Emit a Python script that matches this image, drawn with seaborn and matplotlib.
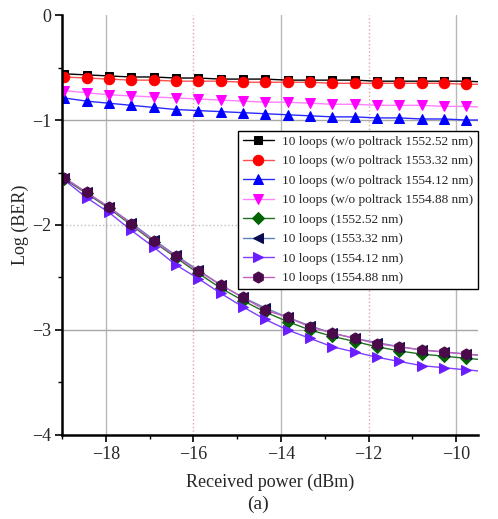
import numpy as np
import pandas as pd
import matplotlib
matplotlib.use("Agg")
import matplotlib.pyplot as plt
import seaborn as sns
from matplotlib.ticker import MultipleLocator

# ---------------------------------------------------------------------------
# data (first/last x are the curve ends, no marker)
# ---------------------------------------------------------------------------
power = [-19.0, -18.95, -18.44, -17.93, -17.42, -16.91, -16.40, -15.89, -15.38,
         -14.87, -14.36, -13.85, -13.34, -12.83, -12.32, -11.81, -11.30,
         -10.79, -10.28, -9.77, -9.5]

labels = [
    "10 loops (w/o poltrack 1552.52 nm)",
    "10 loops (w/o poltrack 1553.32 nm)",
    "10 loops (w/o poltrack 1554.12 nm)",
    "10 loops (w/o poltrack 1554.88 nm)",
    "10 loops (1552.52 nm)",
    "10 loops (1553.32 nm)",
    "10 loops (1554.12 nm)",
    "10 loops (1554.88 nm)",
]

ber_wo_155252 = [-0.555, -0.56, -0.57, -0.58, -0.59, -0.59, -0.60, -0.60, -0.61, -0.61,
                 -0.61, -0.62, -0.62, -0.62, -0.62, -0.63, -0.63, -0.63, -0.63, -0.63, -0.635]
ber_wo_155332 = [-0.585, -0.59, -0.60, -0.61, -0.62, -0.62, -0.63, -0.63, -0.63, -0.64,
                 -0.64, -0.64, -0.64, -0.65, -0.65, -0.65, -0.65, -0.65, -0.65, -0.66, -0.66]
ber_wo_155412 = [-0.785, -0.79, -0.82, -0.84, -0.86, -0.88, -0.90, -0.91, -0.92, -0.93,
                 -0.94, -0.95, -0.96, -0.97, -0.97, -0.98, -0.98, -0.99, -0.99, -1.00, -1.00]
ber_wo_155488 = [-0.715, -0.72, -0.74, -0.76, -0.77, -0.78, -0.79, -0.80, -0.81, -0.82,
                 -0.83, -0.83, -0.84, -0.85, -0.85, -0.86, -0.86, -0.86, -0.87, -0.87, -0.875]
ber_155252 = [-1.55, -1.56, -1.70, -1.84, -2.00, -2.16, -2.31, -2.46, -2.60, -2.72,
              -2.83, -2.92, -3.00, -3.06, -3.11, -3.16, -3.20, -3.23, -3.25, -3.27, -3.28]
ber_155332 = [-1.54, -1.55, -1.69, -1.83, -1.98, -2.14, -2.29, -2.43, -2.57, -2.69,
              -2.79, -2.88, -2.96, -3.03, -3.08, -3.12, -3.16, -3.19, -3.21, -3.23, -3.24]
ber_155412 = [-1.56, -1.57, -1.74, -1.88, -2.05, -2.21, -2.38, -2.51, -2.65, -2.78,
              -2.90, -3.00, -3.08, -3.16, -3.21, -3.26, -3.30, -3.34, -3.36, -3.38, -3.39]
ber_155488 = [-1.54, -1.55, -1.69, -1.83, -1.99, -2.15, -2.30, -2.44, -2.57, -2.69,
              -2.81, -2.88, -2.97, -3.03, -3.08, -3.13, -3.16, -3.19, -3.21, -3.23, -3.24]

series = [ber_wo_155252, ber_wo_155332, ber_wo_155412, ber_wo_155488,
          ber_155252, ber_155332, ber_155412, ber_155488]

# styles: marker colour, line colour, marker, marker size
colors = ["#000000", "#ff0000", "#0000ff", "#ff00ff", "#006400", "#0a0a50", "#6a1eff", "#4a0a4a"]
line_colors = ["#000000", "#ff5050", "#2a2aff", "#ff80ff", "#207020", "#6080c0", "#8040ff", "#c060c0"]
markers = ["s", "o", "^", "v", "D", "<", ">", "h"]
msizes = [6, 7.5, 7.5, 7.5, 6, 7.5, 7.5, 8]

# ---------------------------------------------------------------------------
sns.set_style("white")
plt.rcParams["font.family"] = ["Liberation Serif", "DejaVu Serif"]

fig = plt.figure(figsize=(4.98, 5.19), dpi=100)
ax = fig.add_axes([0.1245, 0.162, 0.8355, 0.809])

# grid lines (mixed look in the original)
for gx in [-18, -14, -10]:
    ax.axvline(gx, color="#b8b8b8", lw=1.0, zorder=0)
for gx in [-16, -12]:
    ax.axvline(gx, color="#d9a8a8", lw=1.0, ls=":", zorder=0)
for gy in [-1, -3]:
    ax.axhline(gy, color="#a8a8a8", lw=1.0, zorder=0)
ax.axhline(-2, color="#c0c0c0", lw=1.0, ls=":", zorder=0)

for lab, vals, c, lc, m, ms in zip(labels, series, colors, line_colors, markers, msizes):
    df = pd.DataFrame({"power": power, "ber": vals})
    sns.lineplot(data=df, x="power", y="ber", ax=ax, color=lc, lw=1.0,
                 marker=m, markersize=ms, markerfacecolor=c, markeredgecolor=c,
                 markevery=slice(1, -1), label=lab, sort=True)

ax.set_xlim(-19, -9.5)
ax.set_ylim(-4, 0)
ax.xaxis.set_major_locator(MultipleLocator(2))
ax.xaxis.set_minor_locator(MultipleLocator(1))
ax.yaxis.set_major_locator(MultipleLocator(1))
ax.yaxis.set_minor_locator(MultipleLocator(0.5))

for side in ["top", "right"]:
    ax.spines[side].set_visible(False)
for side in ["left", "bottom"]:
    ax.spines[side].set_color("black")
    ax.spines[side].set_linewidth(1.8)

ax.tick_params(axis="both", which="major", direction="out", length=5, width=1.2,
               labelsize=13, left=True, bottom=True, color="black", pad=3)
ax.tick_params(axis="both", which="minor", direction="out", length=3, width=1.0,
               left=True, bottom=True, color="black")

ax.set_xlabel("Received power (dBm)", fontsize=13, labelpad=8)
ax.set_ylabel("Log (BER)", fontsize=13, labelpad=2)
fig.text(0.518, 0.012, "(a)", fontsize=14, ha="center", va="bottom")

leg = ax.legend(loc="upper right", bbox_to_anchor=(1.0, 0.724), fontsize=9.5,
                frameon=True, fancybox=False, edgecolor="black", framealpha=1,
                handlelength=2.4, labelspacing=0.55, borderpad=0.35,
                handletextpad=0.6, borderaxespad=0)
leg.get_frame().set_linewidth(1.0)

fig.savefig("out.png", dpi=100)
